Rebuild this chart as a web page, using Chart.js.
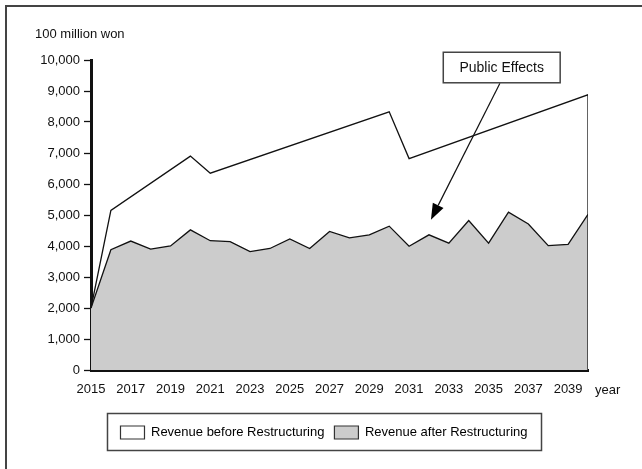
<!DOCTYPE html>
<html>
<head>
<meta charset="utf-8">
<script src="https://cdn.jsdelivr.net/npm/chart.js@4.4.0/dist/chart.umd.min.js"></script>
<style>
  html, body { margin: 0; padding: 0; background: #fff; }
  #wrap { position: relative; width: 642px; height: 469px; }
</style>
</head>
<body>
<div id="wrap"><canvas id="graphe"></canvas></div>
<script>
// Données (en 100 millions de won)
var V_years_after = [2015, 2016, 2017, 2018, 2019, 2020, 2021, 2022, 2023, 2024, 2025, 2026, 2027,
                     2028, 2029, 2030, 2031, 2032, 2033, 2034, 2035, 2036, 2037, 2038, 2039, 2040];
var V_after = [2000, 3880, 4160, 3900, 4000, 4520, 4170, 4140, 3820, 3920, 4230, 3920, 4470,
               4260, 4360, 4640, 3990, 4360, 4090, 4820, 4090, 5090, 4710, 4010, 4050, 5020];

// Courbe "avant" : seulement les sommets (segments droits entre eux)
var V_years_before = [2015, 2016, 2020, 2021, 2030, 2031, 2040, 2040];
var V_before = [2000, 5150, 6900, 6350, 8330, 6820, 8880, 0];

var V_xticks = [2015, 2017, 2019, 2021, 2023, 2025, 2027, 2029, 2031, 2033, 2035, 2037, 2039];
var V_labels = ['Revenue before Restructuring', 'Revenue after Restructuring'];

var S_font = '"Liberation Sans", Arial, sans-serif';

function F_points(V_x, V_y){
    var V_pts = [];
    for (let I_i = 0; I_i < V_x.length; I_i++){ V_pts.push({x: V_x[I_i], y: V_y[I_i]}); }
    return V_pts;
}

// Cadre, unité, "year", encadré de légende et flèche "Public Effects"
var O_extras = {
    id: 'extras',
    afterLayout: function(chart){
        // décaler la légende pour la centrer comme sur l'original
        chart.legend.left += 30;
        chart.legend.right += 30;
    },
    afterDraw: function(chart){
        var ctx = chart.ctx;
        var O_x = chart.scales.x, O_y = chart.scales.y;
        ctx.save();

        // cadre (haut + gauche)
        ctx.strokeStyle = '#444';
        ctx.lineWidth = 2;
        ctx.beginPath();
        ctx.moveTo(6, 469); ctx.lineTo(6, 6); ctx.lineTo(642, 6);
        ctx.stroke();

        ctx.fillStyle = '#111';
        ctx.font = '13px ' + S_font;
        ctx.textBaseline = 'middle';
        ctx.textAlign = 'left';
        ctx.fillText('100 million won', 35, 34);
        ctx.fillText('year', O_x.right + 7, O_y.bottom + 20);

        // encadré autour de la légende
        var V_hb = chart.legend.legendHitBoxes;
        if (V_hb && V_hb.length){
            var I_l = V_hb[0].left - 13;
            var I_r = V_hb[V_hb.length - 1].left + V_hb[V_hb.length - 1].width + 14;
            var I_c = V_hb[0].top + V_hb[0].height / 2;
            ctx.strokeStyle = '#444';
            ctx.lineWidth = 1.5;
            ctx.strokeRect(I_l, I_c - 19, I_r - I_l, 37);
        }

        // flèche
        var I_x0 = O_x.getPixelForValue(2035.57), I_y0 = O_y.getPixelForValue(9250);
        var I_x1 = O_x.getPixelForValue(2032.1), I_y1 = O_y.getPixelForValue(4850);
        var F_ang = Math.atan2(I_y1 - I_y0, I_x1 - I_x0);
        var I_len = 16, I_half = 6;
        var I_bx = I_x1 - I_len * Math.cos(F_ang), I_by = I_y1 - I_len * Math.sin(F_ang);
        ctx.strokeStyle = '#111';
        ctx.lineWidth = 1.2;
        ctx.beginPath();
        ctx.moveTo(I_x0, I_y0); ctx.lineTo(I_bx, I_by);
        ctx.stroke();
        ctx.fillStyle = '#000';
        ctx.beginPath();
        ctx.moveTo(I_x1, I_y1);
        ctx.lineTo(I_bx + I_half * Math.sin(F_ang), I_by - I_half * Math.cos(F_ang));
        ctx.lineTo(I_bx - I_half * Math.sin(F_ang), I_by + I_half * Math.cos(F_ang));
        ctx.closePath();
        ctx.fill();

        // boîte "Public Effects"
        var I_bl = O_x.getPixelForValue(2032.72), I_br = O_x.getPixelForValue(2038.6);
        var I_bt = O_y.getPixelForValue(10250), I_bb = O_y.getPixelForValue(9265);
        ctx.fillStyle = '#fff';
        ctx.fillRect(I_bl, I_bt, I_br - I_bl, I_bb - I_bt);
        ctx.strokeStyle = '#444';
        ctx.lineWidth = 1.5;
        ctx.strokeRect(I_bl, I_bt, I_br - I_bl, I_bb - I_bt);
        ctx.fillStyle = '#111';
        ctx.font = '14px ' + S_font;
        ctx.textAlign = 'center';
        ctx.fillText('Public Effects', (I_bl + I_br) / 2, (I_bt + I_bb) / 2 + 1);

        ctx.restore();
    }
};

var O_config = {
    type: 'line',
    data: {
        datasets: [
            {
                label: V_labels[0],
                data: F_points(V_years_before, V_before),
                borderColor: '#111',
                backgroundColor: '#fff',
                borderWidth: 1.3,
                pointRadius: 0,
                fill: false,
                tension: 0
            },
            {
                label: V_labels[1],
                data: F_points(V_years_after, V_after),
                borderColor: '#111',
                backgroundColor: '#cccccc',
                borderWidth: 1.3,
                pointRadius: 0,
                fill: 'origin',
                tension: 0
            }
        ]
    },
    options: {
        responsive: false,
        animation: false,
        layout: { padding: { left: 0, top: 60, right: 54, bottom: 20 } },
        scales: {
            x: {
                type: 'linear',
                min: 2015,
                max: 2040,
                afterBuildTicks: function(scale){
                    scale.ticks = V_xticks.map(function(v){ return {value: v}; });
                },
                afterFit: function(scale){ scale.height = 46; },
                grid: { display: false, drawTicks: false },
                border: { display: true, color: '#111', width: 3 },
                ticks: {
                    color: '#111',
                    font: { family: S_font, size: 13 },
                    padding: 12,
                    maxRotation: 0,
                    autoSkip: false,
                    callback: function(v){ return String(v); }
                }
            },
            y: {
                min: 0,
                max: 10000,
                afterFit: function(scale){ scale.width = 91; },
                grid: { display: true, drawOnChartArea: false, drawTicks: true, tickLength: 7, tickColor: '#111', tickWidth: 1.3 },
                border: { display: true, color: '#111', width: 3 },
                ticks: {
                    stepSize: 1000,
                    color: '#111',
                    font: { family: S_font, size: 13 },
                    padding: 4,
                    callback: function(v){ return v.toLocaleString('en-US'); }
                }
            }
        },
        plugins: {
            legend: {
                position: 'bottom',
                labels: {
                    color: '#111',
                    font: { family: S_font, size: 13 },
                    boxWidth: 24,
                    boxHeight: 13,
                    padding: 10,
                    generateLabels: function(chart){
                        return chart.data.datasets.map(function(ds, i){
                            return {
                                text: ds.label,
                                fillStyle: ds.backgroundColor,
                                strokeStyle: '#333',
                                lineWidth: 1.2,
                                datasetIndex: i
                            };
                        });
                    }
                }
            },
            tooltip: { enabled: false }
        }
    },
    plugins: [O_extras]
};

var O_canvas = document.getElementById('graphe');
O_canvas.width = 642;
O_canvas.height = 469;
new Chart(O_canvas.getContext('2d'), O_config);
</script>
</body>
</html>
